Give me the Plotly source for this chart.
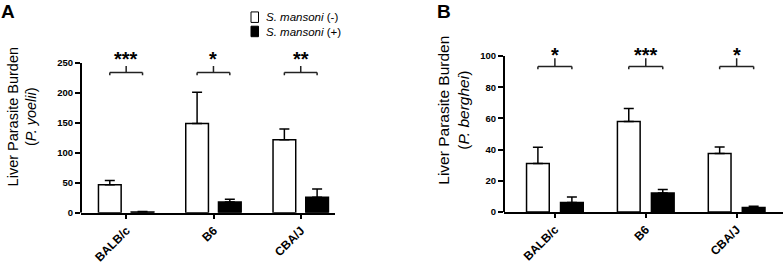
import plotly.graph_objects as go

strains = ["BALB/c", "B6", "CBA/J"]

# Panel A (P. yoelii)
a_neg = [47, 149, 122]
a_neg_err = [7, 52, 18]
a_pos = [1.5, 18, 26]
a_pos_err = [0.8, 4.5, 14]
a_sig = ["***", "*", "**"]
a_ticks = [0, 50, 100, 150, 200, 250]

# Panel B (P. berghei)
b_neg = [31, 58, 37.5]
b_neg_err = [10.5, 8.3, 4.2]
b_pos = [6, 12.2, 2.8]
b_pos_err = [3.5, 2.2, 0.8]
b_sig = ["*", "***", "*"]
b_ticks = [0, 20, 40, 60, 80, 100]

legend_labels = ["<i>S. mansoni</i> (-)", "<i>S. mansoni</i> (+)"]
legend_colors = ["white", "black"]

FONT = "Liberation Sans, Arial, sans-serif"
xs = list(range(len(strains)))
W, H = 783, 264

fig = go.Figure()

def add_panel(neg, neg_err, pos, pos_err, xa, ya, width, off_neg, off_pos):
    for vals, errs, col, off, name in [(neg, neg_err, legend_colors[0], off_neg, legend_labels[0]),
                                       (pos, pos_err, legend_colors[1], off_pos, legend_labels[1])]:
        fig.add_trace(go.Bar(
            x=xs, y=vals, width=width, offset=off,
            marker=dict(color=col, line=dict(color="black", width=1.5)),
            error_y=dict(type="data", symmetric=False, array=errs, arrayminus=[0]*len(errs),
                         color="black", thickness=1.5, width=5),
            name=name, showlegend=False, xaxis=xa, yaxis=ya))

add_panel(a_neg, a_neg_err, a_pos, a_pos_err, "x", "y", 0.26, -0.32, 0.055)
add_panel(b_neg, b_neg_err, b_pos, b_pos_err, "x2", "y2", 0.25, -0.312, 0.062)

shapes = []
annotations = []

def brackets(sig, xref, yref, yb, tick, stem, star_y, left, right, star_size):
    for i, s in enumerate(sig):
        x0, x1 = i + left, i + right
        xm = (x0 + x1) / 2
        ln = dict(color="#222", width=1.5)
        shapes.append(dict(type="line", xref=xref, yref=yref, x0=x0, x1=x1, y0=yb, y1=yb, line=ln))
        shapes.append(dict(type="line", xref=xref, yref=yref, x0=x0, x1=x0, y0=yb, y1=yb - tick, line=ln))
        shapes.append(dict(type="line", xref=xref, yref=yref, x0=x1, x1=x1, y0=yb, y1=yb - tick, line=ln))
        shapes.append(dict(type="line", xref=xref, yref=yref, x0=xm, x1=xm, y0=yb, y1=yb + stem, line=ln))
        annotations.append(dict(x=xm, y=star_y, xref=xref, yref=yref, text="<b>%s</b>" % s,
                                showarrow=False, font=dict(size=star_size, family=FONT, color="black"),
                                yanchor="middle"))

brackets(a_sig, "x", "y", 234.3, 4.8, 10.7, 256, -0.19, 0.185, 20)
brackets(b_sig, "x2", "y2", 93.3, 1.8, 5.3, 100.5, -0.187, 0.187, 20)

# y axis lines only up to the top tick
shapes.append(dict(type="line", xref="x domain", yref="y", x0=0, x1=0, y0=0, y1=a_ticks[-1],
                   line=dict(color="black", width=2)))
shapes.append(dict(type="line", xref="x2 domain", yref="y2", x0=0, x1=0, y0=0, y1=b_ticks[-1],
                   line=dict(color="black", width=2)))

# compact legend like the reference
LEG_FS = 11.5
spacing = 1.3 * LEG_FS
c0 = 18.0
for k, col in enumerate(legend_colors):
    cy = c0 + k * spacing
    shapes.append(dict(type="rect", xref="paper", yref="paper",
                       x0=251/W, x1=258.5/W, y0=1 - (cy + 5.5)/H, y1=1 - (cy - 5.5)/H,
                       fillcolor=col, line=dict(color="black", width=1)))
annotations.append(dict(x=264/W, y=1 - (c0 + spacing/2)/H, xref="paper", yref="paper",
                        xanchor="left", yanchor="middle", align="left",
                        text="<br>".join(legend_labels), showarrow=False,
                        font=dict(size=LEG_FS, family=FONT, color="black")))

annotations += [
    dict(x=0.0, y=1.0, xref="paper", yref="paper", xanchor="left", yanchor="top", borderpad=0,
         text="<b>A</b>", showarrow=False, font=dict(size=19, family=FONT, color="black")),
    dict(x=436/W, y=1.0, xref="paper", yref="paper", xanchor="left", yanchor="top", borderpad=0,
         text="<b>B</b>", showarrow=False, font=dict(size=19, family=FONT, color="black")),
    dict(x=22/W, y=(H-123)/H, xref="paper", yref="paper", xanchor="center", yanchor="middle",
         text="Liver Parasite Burden<br>(<i>P. yoelii</i>)", textangle=-90, showarrow=False,
         font=dict(size=14.5, family=FONT, color="black")),
    dict(x=454/W, y=(H-116)/H, xref="paper", yref="paper", xanchor="center", yanchor="middle",
         text="Liver Parasite Burden<br>(<i>P. berghei</i>)", textangle=-90, showarrow=False,
         font=dict(size=15.5, family=FONT, color="black")),
]

xcommon = dict(tickmode="array", tickvals=xs, ticktext=strains, tickangle=-45,
               tickfont=dict(size=12, family=FONT, color="black", weight="bold"),
               showline=True, linecolor="black", linewidth=2, ticks="outside", ticklen=4,
               tickwidth=1.5, tickcolor="black", showgrid=False, zeroline=False, fixedrange=True)
ycommon = dict(tickmode="array", tickfont=dict(size=9.5, family=FONT, color="black", weight="bold"),
               showline=False, ticks="outside", ticklen=5, tickwidth=1.5, tickcolor="black",
               showgrid=False, zeroline=False)

fig.update_layout(
    width=W, height=H,
    margin=dict(l=0, r=0, t=0, b=0),
    paper_bgcolor="white", plot_bgcolor="white",
    barmode="overlay", showlegend=False,
    font=dict(family=FONT, color="black"),
    xaxis=dict(domain=[81/W, 335/W], range=[-0.52, 2.39], anchor="y", **xcommon),
    yaxis=dict(domain=[41/H, (H-53.4)/H], range=[0, 270], anchor="x", tickvals=a_ticks, **ycommon),
    xaxis2=dict(domain=[504/W, 1.0], range=[-0.56, 2.51], anchor="y2", **xcommon),
    yaxis2=dict(domain=[42/H, (H-45.6)/H], range=[0, 108], anchor="x2", tickvals=b_ticks, **ycommon),
    shapes=shapes, annotations=annotations,
)

fig.write_html("out.html", config={"displayModeBar": False},
               post_script="document.body.style.margin='0';document.body.style.padding='0';")
